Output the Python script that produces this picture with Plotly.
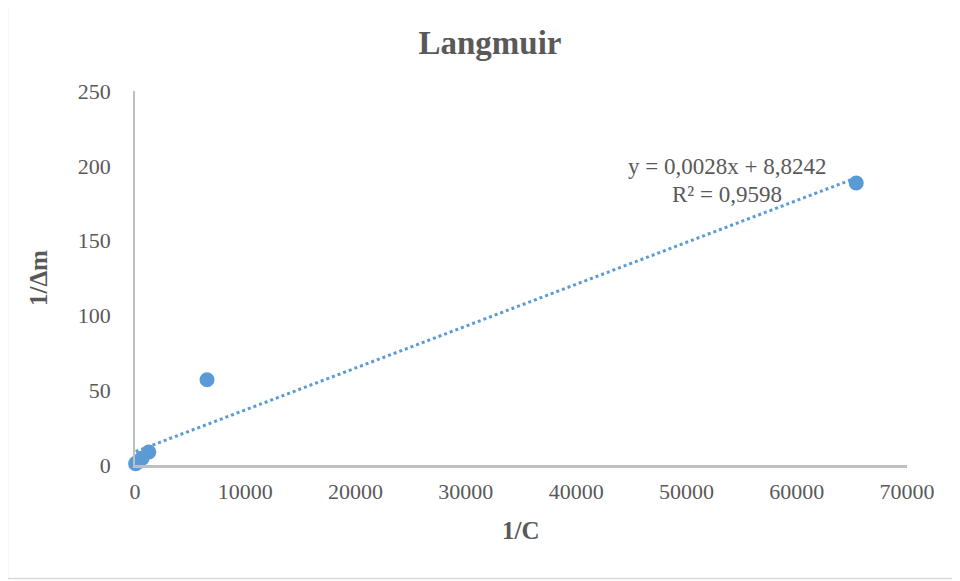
import plotly.graph_objects as go

# Data
inv_c = [65400, 6530, 1250, 650, 300, 130, 60]
inv_dm = [188.5, 57.0, 8.7, 4.6, 2.4, 1.3, 0.9]

# Trendline (Excel linear fit shown on chart)
slope = 0.0028
intercept = 8.8242
eq_text = "y = 0,0028x + 8,8242"
r2_text = "R² = 0,9598"

x_ticks = [0, 10000, 20000, 30000, 40000, 50000, 60000, 70000]
y_ticks = [0, 50, 100, 150, 200, 250]

BLUE = "#5b9bd5"
GRAY_TXT = "#595959"
AX = "#bfbfbf"
FONT = "Liberation Serif"

OFF = 8  # page body margin
W, H = 960 - OFF, 581 - OFF
L, R, T, B = 135 - OFF, 53, 91 - OFF, 116
pw, ph = W - L - R, H - T - B

def px_x(px):
    return (px - OFF - L) / pw

def px_y(py):
    return (H - B - (py - OFF)) / ph

tx = [min(inv_c), max(inv_c)]
ty = [slope * v + intercept for v in tx]

fig = go.Figure()
fig.add_trace(go.Scatter(x=tx, y=ty, mode="lines",
                         line=dict(color=BLUE, width=3, dash="dot"),
                         hoverinfo="skip", showlegend=False, cliponaxis=False))
fig.add_trace(go.Scatter(x=inv_c, y=inv_dm, mode="markers",
                         marker=dict(color=BLUE, size=15),
                         showlegend=False, cliponaxis=False))

fig.update_layout(
    width=W, height=H,
    margin=dict(l=L, r=R, t=T, b=B, autoexpand=False),
    paper_bgcolor="white", plot_bgcolor="white",
    font=dict(family=FONT, color=GRAY_TXT, size=20),
    title=dict(text="<b>Langmuir</b>", x=(490 - OFF) / W, xanchor="center",
               y=1 - (42 - OFF) / H, yanchor="middle",
               font=dict(family=FONT, size=33, color=GRAY_TXT)),
    xaxis=dict(range=[0, 70000], tickvals=x_ticks, ticktext=[str(v) for v in x_ticks],
               showgrid=False, zeroline=False, showline=True, linecolor=AX, linewidth=3,
               ticks="", tickfont=dict(family=FONT, size=22, color=GRAY_TXT), ticklabelstandoff=5),
    yaxis=dict(range=[0, 250], tickvals=y_ticks, ticktext=[str(v) for v in y_ticks],
               showgrid=False, zeroline=False, showline=True, linecolor=AX, linewidth=1.5,
               ticks="", tickfont=dict(family=FONT, size=22, color=GRAY_TXT), ticklabelstandoff=18),
    shapes=[dict(type="rect", xref="paper", yref="paper",
                 x0=px_x(7.5), x1=px_x(957.5), y0=px_y(578.5), y1=px_y(1.5),
                 line=dict(color="#d9d9d9", width=1.5), fillcolor="rgba(0,0,0,0)", layer="below")],
    annotations=[
        dict(text="<b>1/C</b>", xref="paper", yref="paper", x=px_x(521), y=px_y(530),
             showarrow=False, xanchor="center", yanchor="middle",
             font=dict(family=FONT, size=25, color=GRAY_TXT)),
        dict(text="<b>1/Δm</b>", xref="paper", yref="paper", x=px_x(38), y=px_y(278),
             showarrow=False, xanchor="center", yanchor="middle", textangle=-90,
             font=dict(family=FONT, size=25, color=GRAY_TXT)),
        dict(text=eq_text, xref="paper", yref="paper", x=px_x(727), y=px_y(166),
             showarrow=False, xanchor="center", yanchor="middle",
             font=dict(family=FONT, size=23, color=GRAY_TXT)),
        dict(text=r2_text, xref="paper", yref="paper", x=px_x(727), y=px_y(194),
             showarrow=False, xanchor="center", yanchor="middle",
             font=dict(family=FONT, size=23, color=GRAY_TXT)),
    ],
)

fig.write_html("out.html")
